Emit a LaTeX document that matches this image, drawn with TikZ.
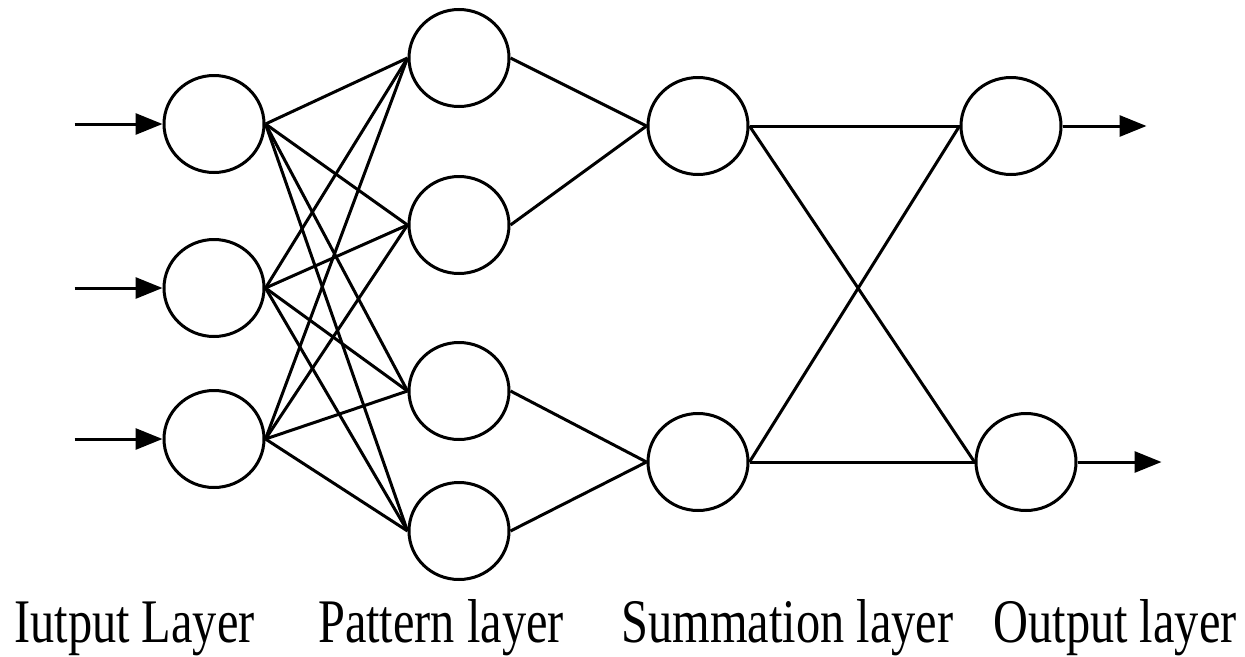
\documentclass[tikz,border=0pt]{standalone}
\usepackage{fontspec}
\newfontfamily\labelfont[FakeStretch=0.78]{Liberation Serif}
\usetikzlibrary{arrows.meta,shapes.geometric}

\tikzset{
	neuron/.style={draw, ellipse, minimum width=100pt, minimum height=97pt, inner sep=0pt},
	link/.style={line width=3pt},
	flow/.style={-{Triangle[length=27pt,width=21pt]}, line width=3pt},
	layername/.style={anchor=base, inner sep=0pt, font=\labelfont\fontsize{62}{70}\selectfont}
}

\begin{document}
\begin{tikzpicture}[x=1pt, y=1pt, line width=3pt]
		\useasboundingbox (0,0) rectangle (1245,-656);
		% input layer
		\node[neuron] (I1) at (214,-124) {};
		\node[neuron, node distance=164pt] (I2) [below of=I1] {};
		\node[neuron, node distance=151pt] (I3) [below of=I2] {};
		% pattern layer
		\node[neuron] (P1) at (459,-58) {};
		\node[neuron, node distance=167pt] (P2) [below of=P1] {};
		\node[neuron, node distance=166pt] (P3) [below of=P2] {};
		\node[neuron, node distance=140pt] (P4) [below of=P3] {};
		% summation layer
		\node[neuron] (S1) at (698,-126) {};
		\node[neuron, node distance=336pt] (S2) [below of=S1] {};
		% output layer
		\node[neuron] (O1) at (1011,-126) {};
		\node[neuron] (O2) at (1026,-462) {};
		\foreach \i in {1,2,3}
		{
			\path (I\i.west) ++(-88pt,0) coordinate (in\i);
			\draw[flow] (in\i) -- (I\i.west);
			\foreach \p in {1,...,4}
				\draw[link] (I\i.east) -- (P\p.west);
		}
		\draw[link] (P1.east) -- (S1.west);
		\draw[link] (P2.east) -- (S1.west);
		\draw[link] (P3.east) -- (S2.west);
		\draw[link] (P4.east) -- (S2.west);
		\foreach \s in {1,2}
			\foreach \o in {1,2}
				\draw[link] (S\s.east) -- (O\o.west);
		\foreach \o in {1,2}
		{
			\path (O\o.east) ++(84pt,0) coordinate (out\o);
			\draw[flow] (O\o.east) -- (out\o);
		}
		% layer names
		\node[layername] (LI) at (134.5,-642) {Iutput Layer};
		\node[layername] (LP) at (441,-642) {Pattern layer};
		\node[layername] (LS) at (787.5,-642) {Summation layer};
		\node[layername] (LO) at (1115,-642) {Output layer};
\end{tikzpicture}
\end{document}
